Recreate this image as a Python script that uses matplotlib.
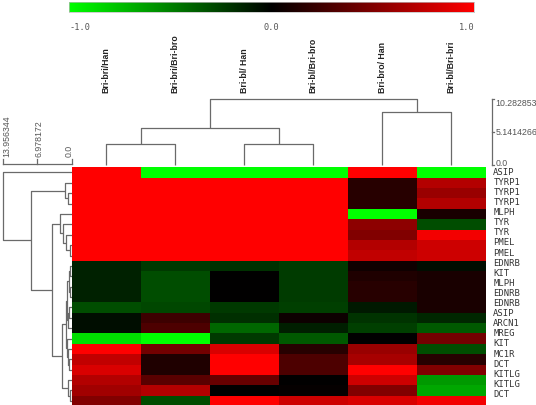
import numpy as np
import matplotlib
matplotlib.use('Agg')
import matplotlib.pyplot as plt
from matplotlib.colors import LinearSegmentedColormap
from matplotlib.transforms import blended_transform_factory

# ---------------- data ----------------
columns = ["Bri-bri/Han", "Bri-bri/Bri-bro", "Bri-bl/ Han",
           "Bri-bl/Bri-bro", "Bri-bro/ Han", "Bri-bl/Bri-bri"]
genes = ["ASIP", "TYRP1", "TYRP1", "TYRP1", "MLPH", "TYR", "TYR", "PMEL", "PMEL",
         "EDNRB", "KIT", "MLPH", "EDNRB", "EDNRB", "ASIP", "ARCN1", "MREG", "KIT",
         "MC1R", "DCT", "KITLG", "KITLG", "DCT"]

bri_bri_han = [1, 1, 1, 1, 1, 1, 1, 1, 1, -0.13, -0.13, -0.13, -0.13, -0.3, -0.05, -0.05,
               -0.87, 1.0, 0.75, 0.85, 0.7, 0.63, 0.5]
bri_bri_bri_bro = [-1, 1, 1, 1, 1, 1, 1, 1, 1, -0.22, -0.3, -0.3, -0.3, -0.28, 0.24, 0.3,
                   -1.0, 0.45, 0.12, 0.12, 0.35, 0.7, -0.3]
bri_bl_han = [-1, 1, 1, 1, 1, 1, 1, 1, 1, -0.19, 0.0, 0.0, 0.0, -0.22, -0.18, -0.4,
              -0.22, 0.85, 1.0, 1.0, 0.4, 0.0, 1.0]
bri_bl_bri_bro = [-1, 1, 1, 1, 1, 1, 1, 1, 1, -0.23, -0.23, -0.23, -0.23, -0.25, 0.05, -0.12,
                  -0.35, 0.15, 0.3, 0.3, 0.0, 0.02, 0.8]
bri_bro_han = [1, 0.15, 0.15, 0.15, -1, 0.55, 0.5, 0.7, 0.75, 0.06, 0.12, 0.15, 0.15,
               -0.1, -0.2, -0.25, 0.0, 0.6, 0.65, 1.0, 0.8, 0.5, 0.85]
bri_bl_bri_bri = [-1, 0.7, 0.6, 0.7, 0.1, -0.3, 0.95, 0.8, 0.8, -0.05, 0.1, 0.1, 0.1, 0.1,
                  -0.15, -0.35, 0.45, -0.3, 0.15, 0.5, -0.6, -0.65, 0.95]

# dendrogram merges: (child_a, child_b, height); leaves first, new nodes numbered after
row_merges = [(2, 3, 0.69), (1, 23, 1.36), (7, 8, 0.4), (6, 25, 1.1), (5, 26, 1.7),
              (4, 27, 2.37), (9, 10, 0.35), (11, 12, 0.3), (29, 30, 0.6), (13, 14, 0.45),
              (32, 15, 0.7), (31, 33, 0.95), (18, 19, 0.45), (17, 35, 0.7), (16, 36, 0.9),
              (34, 37, 1.25), (21, 22, 0.4), (20, 39, 0.8), (38, 40, 2.02), (28, 41, 3.92),
              (24, 42, 8.23), (0, 43, 13.956344)]
col_merges = [(0, 1, 3.27), (2, 3, 3.27), (6, 7, 5.7), (4, 5, 8.2), (8, 9, 10.282853)]

row_scale = ["13.956344", "6.978172", "0.0"]
col_scale = ["10.282853", "5.1414266", "0.0"]
cbar_ticks = ["-1.0", "0.0", "1.0"]

# ---------------- helpers ----------------
W, H = 536, 406
def frac(x0, y0, x1, y1):
    return [x0 / W, (H - y1) / H, (x1 - x0) / W, (y1 - y0) / H]

def dendro_segments(n, merges):
    pos = {i: i + 0.5 for i in range(n)}
    hgt = {i: 0.0 for i in range(n)}
    segs = []
    for k, (a, b, h) in enumerate(merges):
        nid = n + k
        pos[nid] = (pos[a] + pos[b]) / 2
        hgt[nid] = h
        segs.append(([pos[a], pos[a], pos[b], pos[b]], [hgt[a], h, h, hgt[b]]))
    return segs

cmap = LinearSegmentedColormap.from_list("gbr", ["#00ff00", "#000000", "#ff0000"])
line_c = "#6a6a6a"
txt_c = "#555555"

fig = plt.figure(figsize=(W / 100, H / 100), dpi=100)
fig.patch.set_facecolor("white")

# ---------------- heatmap ----------------
nrows, ncols = len(genes), len(columns)
row_h = 10.38
hm_l, hm_t, hm_r = 71.7, 168.3, 485.7
hm_b = hm_t + nrows * row_h
M = np.array([bri_bri_han, bri_bri_bri_bro, bri_bl_han, bri_bl_bri_bro,
              bri_bro_han, bri_bl_bri_bri]).T
ax = fig.add_axes(frac(hm_l, hm_t, hm_r, hm_b))
ax.pcolormesh(np.arange(ncols + 1), np.arange(nrows + 1), M, cmap=cmap, vmin=-1, vmax=1)
ax.set_xlim(0, ncols)
ax.set_ylim(nrows, 0)
ax.axis("off")
tr = blended_transform_factory(ax.transAxes, ax.transData)
for i, g in enumerate(genes):
    ax.text(1 + 7.6 / (hm_r - hm_l), 0.385 + 0.973 * i, g, transform=tr, ha="left",
            va="center", fontsize=6.4, family="DejaVu Sans Mono", color="#333333",
            clip_on=False)

# ---------------- top dendrogram ----------------
ppu_top = 6.42
top_t = 92.0
y0 = -(hm_t - 166.0) / ppu_top
y1 = y0 + (hm_t - top_t) / ppu_top
axt = fig.add_axes(frac(hm_l, top_t, hm_r, hm_t))
for xs, ys in dendro_segments(ncols, col_merges):
    axt.plot(xs, ys, color=line_c, lw=0.9, solid_capstyle="butt")
axt.set_xlim(0, ncols)
axt.set_ylim(y0, y1)
axt.axis("off")
lab_y = y0 + (hm_t - 93.0) / ppu_top
for j, c in enumerate(columns):
    axt.text(j + 0.5, lab_y, c, rotation=90, ha="center", va="bottom", fontsize=6.3,
             fontweight="bold", family="Liberation Sans", color="#222222", clip_on=False)
# scale bar (right)
sx = ncols + (491.7 - hm_r) / 69.0
top_val = col_merges[-1][2]
scale_vals = [top_val, top_val / 2, 0.0]
axt.plot([sx, sx], [0, top_val], color=line_c, lw=0.9, clip_on=False)
for v, s, dy in zip(scale_vals, col_scale, [-0.5, 0.0, 0.45]):
    axt.plot([sx, sx + 0.03], [v, v], color=line_c, lw=0.9, clip_on=False)
    axt.text(sx + 0.05, v + dy, s, ha="left", va="center", fontsize=6.3,
             family="Liberation Sans", color=txt_c, clip_on=False)

# ---------------- left dendrogram ----------------
ppu_left = 69.0 / 13.956344
axl = fig.add_axes(frac(0, hm_t, hm_l, hm_b))
for xs, ys in dendro_segments(nrows, row_merges):
    axl.plot(ys, xs, color=line_c, lw=0.9, solid_capstyle="butt")
axl.set_xlim(hm_l / ppu_left, 0)
axl.set_ylim(nrows, 0)
axl.axis("off")
root_h = row_merges[-1][2]
by = (165.0 - hm_t) / row_h
tick = 5.0 / row_h
axl.plot([root_h, 0], [by, by], color=line_c, lw=0.9, clip_on=False)
for v, s, dx in zip([root_h, root_h / 2, 0.0], row_scale, [3.6, 1.8, -2.5]):
    axl.plot([v, v], [by, by - tick], color=line_c, lw=0.9, clip_on=False)
    axl.text(v - dx / ppu_left, by - 0.8, s, rotation=90, ha="center", va="bottom",
             fontsize=6.3, family="Liberation Sans", color=txt_c, clip_on=False)

# ---------------- colour bar ----------------
axc = fig.add_axes(frac(69.3, 3.3, 474.3, 13.3))
axc.imshow(np.linspace(-1, 1, 256)[None, :], aspect="auto", cmap=cmap, vmin=-1, vmax=1,
           extent=[-1, 1, 0, 1])
axc.set_xticks([]); axc.set_yticks([])
for sp in axc.spines.values():
    sp.set_color("#bbbbbb"); sp.set_linewidth(0.5)
for xv, s, ha in zip([-1, 0, 1], cbar_ticks, ["left", "center", "right"]):
    axc.text(xv, -1.45, s, ha=ha, va="center", fontsize=6.2, family="DejaVu Sans Mono",
             color=txt_c, clip_on=False)

fig.savefig("out.png", dpi=100, facecolor="white")
